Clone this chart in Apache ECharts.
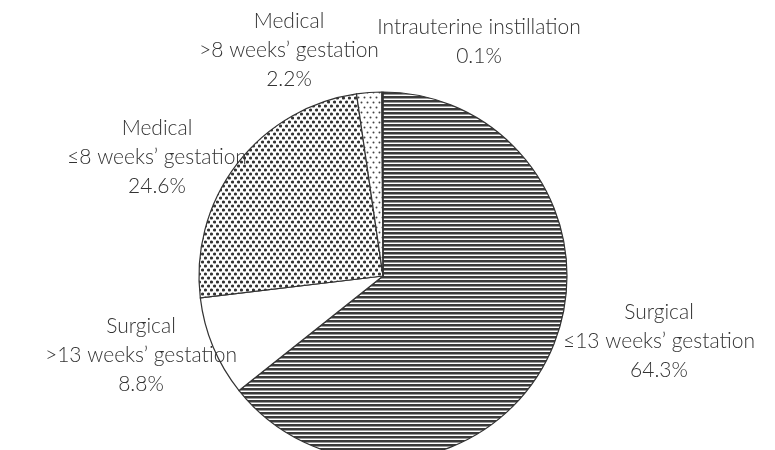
<!DOCTYPE html>
<html>
<head>
<meta charset="utf-8">
<script src="https://cdn.jsdelivr.net/npm/echarts@6/dist/echarts.min.js"></script>
<style>html,body{margin:0;padding:0;background:#fff}#c{width:775px;height:450px}</style>
</head>
<body>
<div id="c"></div>
<script>
var categories = [
  'Surgical\n\u226413 weeks\u2019 gestation',
  'Surgical\n>13 weeks\u2019 gestation',
  'Medical\n\u22648 weeks\u2019 gestation',
  'Medical\n>8 weeks\u2019 gestation',
  'Intrauterine instillation'
];
var percentages = [64.3, 8.8, 24.6, 2.2, 0.1];

function makePattern(w, h, draw) {
  var cv = document.createElement('canvas');
  cv.width = w; cv.height = h;
  var ctx = cv.getContext('2d');
  ctx.fillStyle = '#fff';
  ctx.fillRect(0, 0, w, h);
  draw(ctx);
  return { image: cv, repeat: 'repeat' };
}
var stripes = makePattern(4, 4, function (ctx) {
  ctx.fillStyle = '#3a3a3a';
  ctx.fillRect(0, 0, 4, 2);
  ctx.fillStyle = '#9a9a9a';
  ctx.fillRect(0, 2, 4, 1);
});
function dot(ctx, x, y, r) { ctx.beginPath(); ctx.arc(x, y, r, 0, Math.PI * 2); ctx.fill(); }
var denseDots = makePattern(6, 8, function (ctx) {
  ctx.fillStyle = '#333';
  dot(ctx, 1.5, 2, 1.6);
  dot(ctx, 4.5, 6, 1.6);
});
var sparseDots = makePattern(6, 10, function (ctx) {
  ctx.fillStyle = '#444';
  dot(ctx, 1.5, 2.5, 1.0);
  dot(ctx, 4.5, 7.5, 1.0);
});
var fills = [stripes, '#ffffff', denseDots, sparseDots, '#ffffff'];
var labelPos = [[659, 341], [141, 355], [157, 157], [289, 50], [479, 42]];

var chart = echarts.init(document.getElementById('c'), null, { renderer: 'canvas' });
chart.setOption({
  animation: false,
  series: [{
    type: 'pie',
    center: [383, 276],
    radius: 184,
    startAngle: 90,
    clockwise: true,
    avoidLabelOverlap: false,
    data: categories.map(function (n, i) {
      return { name: n, value: percentages[i], itemStyle: { color: fills[i] } };
    }),
    itemStyle: { borderColor: '#333', borderWidth: 1.2 },
    label: {
      show: true,
      formatter: function (p) { return p.name + '\n' + p.value + '%'; },
      fontFamily: 'Lato',
      fontWeight: 300,
      fontSize: 21,
      lineHeight: 29,
      color: '#333',
      align: 'center'
    },
    labelLine: { show: false },
    labelLayout: function (p) {
      var pos = labelPos[p.dataIndex];
      return { x: pos[0], y: pos[1], align: 'center', verticalAlign: 'middle' };
    },
    emphasis: { disabled: true }
  }]
});
</script>
</body>
</html>
